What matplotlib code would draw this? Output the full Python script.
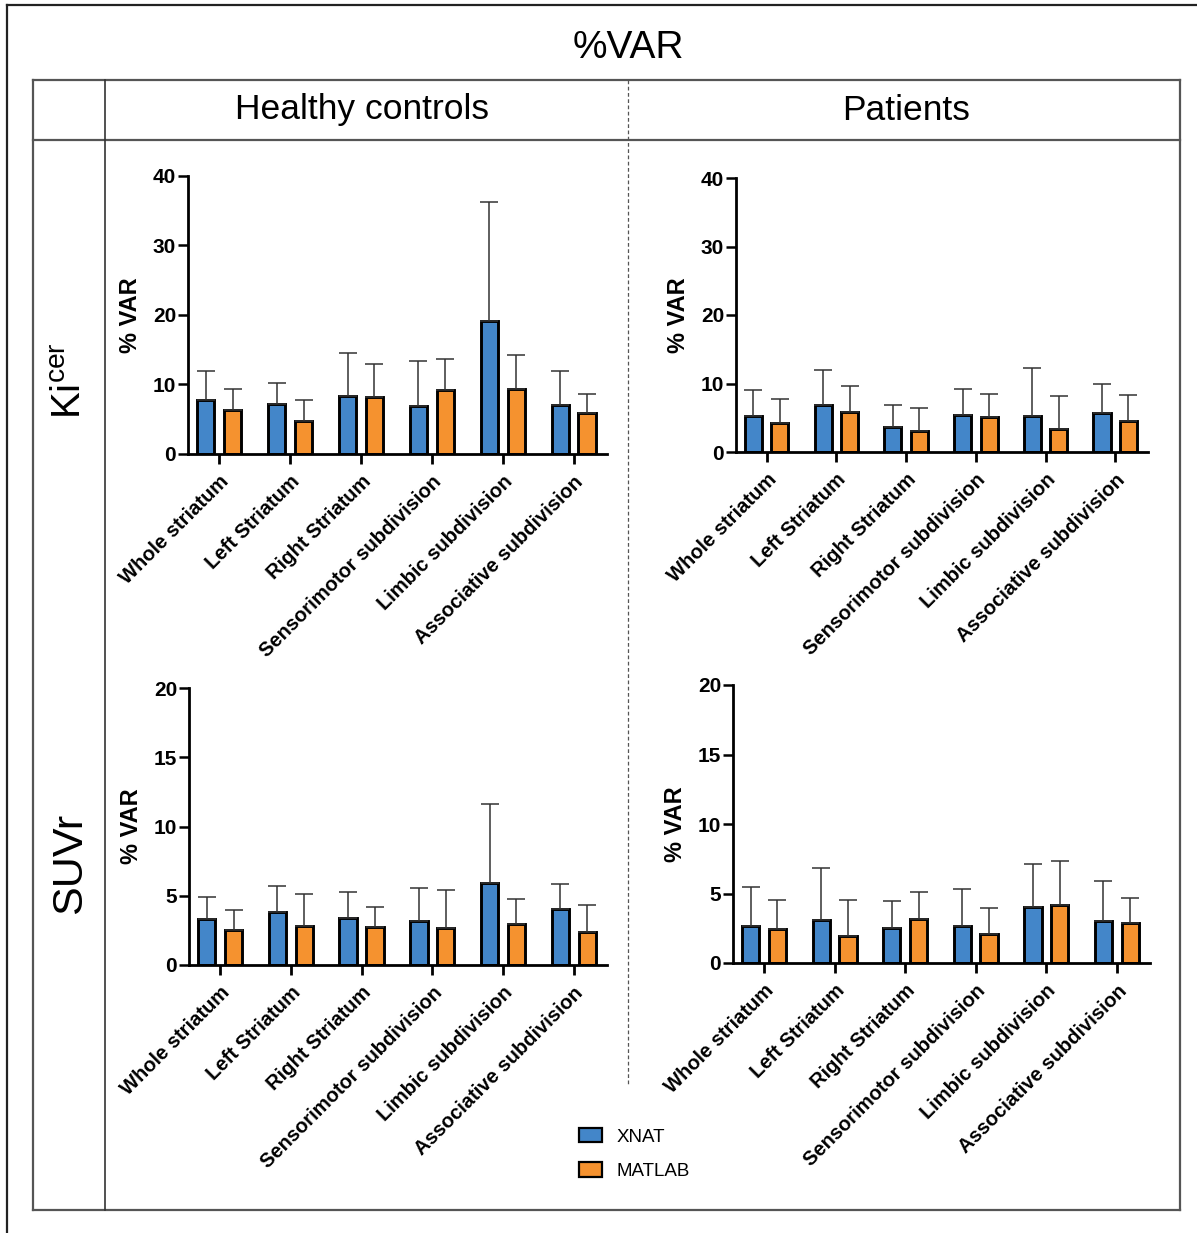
import numpy as np
import matplotlib
matplotlib.use("Agg")
import matplotlib.pyplot as plt
from matplotlib.lines import Line2D
from matplotlib.patches import Patch

plt.rcParams['font.family'] = ['Liberation Sans', 'DejaVu Sans']

regions = ["Whole striatum", "Left Striatum", "Right Striatum",
           "Sensorimotor subdivision", "Limbic subdivision", "Associative subdivision"]
methods = ["XNAT", "MATLAB"]

# %VAR mean and SD per region — Ki(cer), healthy controls
hc_ki_xnat_mean = [7.7, 7.15, 8.35, 6.9, 19.1, 7.05]
hc_ki_xnat_sd = [4.3, 3.05, 6.15, 6.5, 17.1, 4.95]
hc_ki_matlab_mean = [6.4, 4.7, 8.2, 9.2, 9.4, 5.95]
hc_ki_matlab_sd = [2.9, 3.0, 4.7, 4.4, 4.8, 2.75]

# Ki(cer), patients
pt_ki_xnat_mean = [5.2, 6.8, 3.6, 5.45, 5.25, 5.7]
pt_ki_xnat_sd = [3.8, 5.1, 3.3, 3.7, 7.05, 4.3]
pt_ki_matlab_mean = [4.3, 5.9, 3.0, 5.15, 3.3, 4.5]
pt_ki_matlab_sd = [3.5, 3.8, 3.4, 3.25, 4.9, 3.8]

# SUVr, healthy controls
hc_suvr_xnat_mean = [3.3, 3.8, 3.4, 3.15, 5.95, 4.05]
hc_suvr_xnat_sd = [1.6, 1.9, 1.85, 2.4, 5.65, 1.8]
hc_suvr_matlab_mean = [2.5, 2.8, 2.75, 2.7, 2.95, 2.4]
hc_suvr_matlab_sd = [1.5, 2.35, 1.45, 2.7, 1.85, 1.95]

# SUVr, patients
pt_suvr_xnat_mean = [2.65, 3.1, 2.5, 2.65, 4.05, 3.05]
pt_suvr_xnat_sd = [2.85, 3.7, 1.95, 2.7, 3.05, 2.85]
pt_suvr_matlab_mean = [2.45, 1.95, 3.15, 2.1, 4.15, 2.85]
pt_suvr_matlab_sd = [2.05, 2.55, 1.95, 1.85, 3.2, 1.85]

ki_ticks = [0, 10, 20, 30, 40]
suvr_ticks = [0, 5, 10, 15, 20]

BLUE = "#4386C9"
ORANGE = "#F5922F"

W, H = 1197, 1233
fig = plt.figure(figsize=(W / 100, H / 100), dpi=100)


def fx(px):
    return px / W


def fy(py):
    return 1 - py / H


def hline(y, x0, x1, **kw):
    fig.add_artist(Line2D([fx(x0), fx(x1)], [fy(y), fy(y)], transform=fig.transFigure, **kw))


def vline(x, y0, y1, **kw):
    fig.add_artist(Line2D([fx(x), fx(x)], [fy(y0), fy(y1)], transform=fig.transFigure, **kw))


# outer frame and table grid
frame_kw = dict(color="#222222", lw=1.6)
grid_kw = dict(color="#555555", lw=1.6)
hline(5, 7, W, **frame_kw)
vline(7, 5, H, **frame_kw)
hline(80, 33, 1180, **grid_kw)
hline(140, 33, 1180, **grid_kw)
hline(1210, 33, 1180, **grid_kw)
vline(33, 80, 1210, **grid_kw)
vline(105, 80, 1210, color="#333333", lw=1.2)
vline(1180, 80, 1210, **grid_kw)
vline(628, 80, 1085, color="#555555", lw=0.9, linestyle=(0, (3, 2)))

fig.text(fx(628), fy(48), "%VAR", ha="center", va="center", fontsize=28)
fig.text(fx(362), fy(110), "Healthy controls", ha="center", va="center", fontsize=25.5)
fig.text(fx(906), fy(110), "Patients", ha="center", va="center", fontsize=25.5)
fig.text(fx(70), fy(381), r"Ki$^{\mathregular{cer}}$", ha="center", va="center",
         rotation=90, fontsize=29)
fig.text(fx(70), fy(863), "SUVr", ha="center", va="center", rotation=90, fontsize=31)


def panel(rect_px, xm, xs, mm, ms, ticks):
    left, right, bottom, top = rect_px
    ax = fig.add_axes([fx(left), fy(bottom), fx(right - left), (bottom - top) / H])
    x = np.arange(len(regions))
    off, bw = 0.19, 0.245
    err_kw = dict(ecolor="#333333", elinewidth=1.1, capsize=6.5, capthick=1.1)
    ax.bar(x - off, xm, bw, color=BLUE, edgecolor="black", linewidth=2.1,
           yerr=[np.zeros(len(xm)), xs], error_kw=err_kw, zorder=2)
    ax.bar(x + off, mm, bw, color=ORANGE, edgecolor="black", linewidth=2.1,
           yerr=[np.zeros(len(mm)), ms], error_kw=err_kw, zorder=2)
    ax.set_xlim(-0.44, len(regions) - 1 + 0.47)
    ax.set_ylim(ticks[0], ticks[-1])
    ax.set_yticks(ticks)
    ax.set_yticklabels([str(t) for t in ticks], fontweight="bold", fontsize=15)
    ax.set_xticks(x)
    ax.set_xticklabels(regions, rotation=45, ha="right", rotation_mode="anchor",
                       fontweight="bold", fontsize=14.5)
    for s in ("top", "right"):
        ax.spines[s].set_visible(False)
    for s in ("left", "bottom"):
        ax.spines[s].set_linewidth(2.0)
    ax.tick_params(axis="y", length=7, width=1.8, pad=1.5)
    ax.tick_params(axis="x", length=7, width=2.0, pad=6)
    ax.set_ylabel("% VAR", fontweight="bold", fontsize=17, labelpad=8)
    ax.patch.set_alpha(0)
    return ax


panel((188, 607, 454, 176), hc_ki_xnat_mean, hc_ki_xnat_sd, hc_ki_matlab_mean, hc_ki_matlab_sd, ki_ticks)
panel((736, 1148, 452, 178), pt_ki_xnat_mean, pt_ki_xnat_sd, pt_ki_matlab_mean, pt_ki_matlab_sd, ki_ticks)
panel((189, 607, 965, 688), hc_suvr_xnat_mean, hc_suvr_xnat_sd, hc_suvr_matlab_mean, hc_suvr_matlab_sd, suvr_ticks)
panel((733, 1150, 963, 685), pt_suvr_xnat_mean, pt_suvr_xnat_sd, pt_suvr_matlab_mean, pt_suvr_matlab_sd, suvr_ticks)

handles = [Patch(facecolor=BLUE, edgecolor="black", linewidth=1.6),
           Patch(facecolor=ORANGE, edgecolor="black", linewidth=1.6)]
fig.legend(handles, methods, loc="upper left", bbox_to_anchor=(fx(562), fy(1111)),
           frameon=False, fontsize=13.5, handlelength=1.25, handleheight=0.8,
           handletextpad=0.75, labelspacing=0.9)

fig.savefig("out.png", dpi=100, facecolor="white")
